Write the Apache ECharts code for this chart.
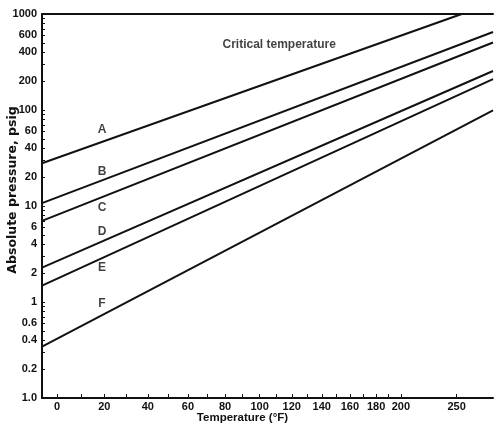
<!DOCTYPE html>
<html><head><meta charset="utf-8">
<script src="https://cdn.jsdelivr.net/npm/echarts@6/dist/echarts.min.js"></script>
<style>html,body{margin:0;padding:0;background:#fff}#c{width:494px;height:426px}</style>
</head><body><div id="c"></div>
<script>
// Plot range (temperature in °F, pressure in psig)
const tMin = -6, tMax = 287;
const pMin = 0.1, pMax = 1000;

// Tick labels
const xTickLabels = [0, 20, 40, 60, 80, 100, 120, 140, 160, 180, 200, 250];
const xTickMarks = [0, 10, 20, 30, 40, 50, 60, 70, 80, 90, 100, 110, 120, 130, 140, 150, 160, 170, 180, 190, 200, 250];
const yTickValues = [0.1, 0.2, 0.4, 0.6, 1, 2, 4, 6, 10, 20, 40, 60, 100, 200, 400, 600, 1000];
const yTickTexts = ['1.0', '0.2', '0.4', '0.6', '1', '2', '4', '6', '10', '20', '40', '60', '100', '200', '400', '600', '1000'];

// Series: endpoints (temperature °F, pressure psig)
const lineNames = ['A', 'B', 'C', 'D', 'E', 'F'];
const lineA_T = [-6, 255];  const lineA_P = [27.9, 1000];
const lineB_T = [-6, 287];  const lineB_P = [10.7, 650];
const lineC_T = [-6, 287];  const lineC_P = [7.0, 505];
const lineD_T = [-6, 287];  const lineD_P = [2.28, 255];
const lineE_T = [-6, 287];  const lineE_P = [1.48, 210];
const lineF_T = [-6, 287];  const lineF_P = [0.342, 99];

// Annotations
const noteTexts = ['A', 'B', 'C', 'D', 'E', 'F', 'Critical temperature'];
const noteT = [19, 19, 19, 19, 19, 19, 112];
const noteP = [63, 23, 9.5, 5.4, 2.26, 0.97, 475];

// Cox-chart scales: x linear in -1/(T+460), y linear in log10(P)
const ux = t => -10000 / (t + 460);
const uy = p => Math.log10(p);
const tFromU = u => -10000 / u - 460;

const lineT = [lineA_T, lineB_T, lineC_T, lineD_T, lineE_T, lineF_T];
const lineP = [lineA_P, lineB_P, lineC_P, lineD_P, lineE_P, lineF_P];

const txt = { fontFamily: 'Liberation Sans, Arial, sans-serif', color: '#111' };

const series = lineNames.map((n, i) => ({
  name: n, type: 'line', showSymbol: false, silent: true,
  lineStyle: { color: '#111', width: 2 },
  data: lineT[i].map((t, k) => [ux(t), uy(lineP[i][k])])
}));
series.push({
  type: 'scatter', symbolSize: 0, silent: true, xAxisIndex: 0,
  data: noteTexts.map((s, i) => ({ value: [ux(noteT[i]), uy(noteP[i])], name: s })),
  label: { show: true, position: 'inside', formatter: p => p.name,
           fontSize: 12, fontWeight: 'bold', ...txt }
});

const chart = echarts.init(document.getElementById('c'));
chart.setOption({
  animation: false,
  backgroundColor: '#fff',
  grid: { left: 42, right: 1, top: 14, bottom: 28, containLabel: false, outerBoundsMode: 'none' },
  xAxis: [{
    type: 'value', min: ux(tMin), max: ux(tMax),
    name: 'Temperature (°F)', nameLocation: 'middle', nameGap: 14, nameMoveOverlap: false,
    nameTextStyle: { fontSize: 11.5, fontWeight: 'bold', ...txt, verticalAlign: 'top', padding: [0, 50, 0, 0] },
    splitLine: { show: false },
    axisLine: { onZero: false, lineStyle: { color: '#111', width: 2 } },
    axisTick: { inside: true, length: 4, lineStyle: { color: '#111' }, customValues: xTickMarks.map(ux) },
    axisLabel: { customValues: xTickLabels.map(ux), margin: 3, fontSize: 11, fontWeight: 'bold', ...txt,
                 formatter: v => String(Math.round(tFromU(v))) }
  }, {
    type: 'value', position: 'top', min: ux(tMin), max: ux(tMax),
    splitLine: { show: false }, axisTick: { show: false }, axisLabel: { show: false },
    axisLine: { show: true, onZero: false, lineStyle: { color: '#111', width: 2 } }
  }],
  yAxis: {
    type: 'value', min: uy(pMin) - 1e-9, max: uy(pMax) + 1e-9,
    name: 'Absolute pressure, psig', nameLocation: 'middle', nameGap: 23, nameMoveOverlap: false,
    nameTextStyle: { fontSize: 12.5, fontWeight: 'bold', color: '#111', fontFamily: 'DejaVu Sans, sans-serif', padding: [0, 0, 0, 32] },
    splitLine: { show: false },
    axisLine: { onZero: false, lineStyle: { color: '#111', width: 2 } },
    axisTick: { inside: true, length: 3, lineStyle: { color: '#111' },
      customValues: (() => { const a = []; for (let e = -1; e < 3; e++) for (let m = 1; m < 10; m++) a.push(uy(m * Math.pow(10, e))); a.push(uy(1000)); return a; })() },
    axisLabel: { customValues: yTickValues.map(uy), margin: 5, fontSize: 11, fontWeight: 'bold', ...txt,
      formatter: v => { let best = 0; yTickValues.forEach((p, i) => { if (Math.abs(uy(p) - v) < Math.abs(uy(yTickValues[best]) - v)) best = i; }); return yTickTexts[best]; } }
  },
  series
});
</script></body></html>
